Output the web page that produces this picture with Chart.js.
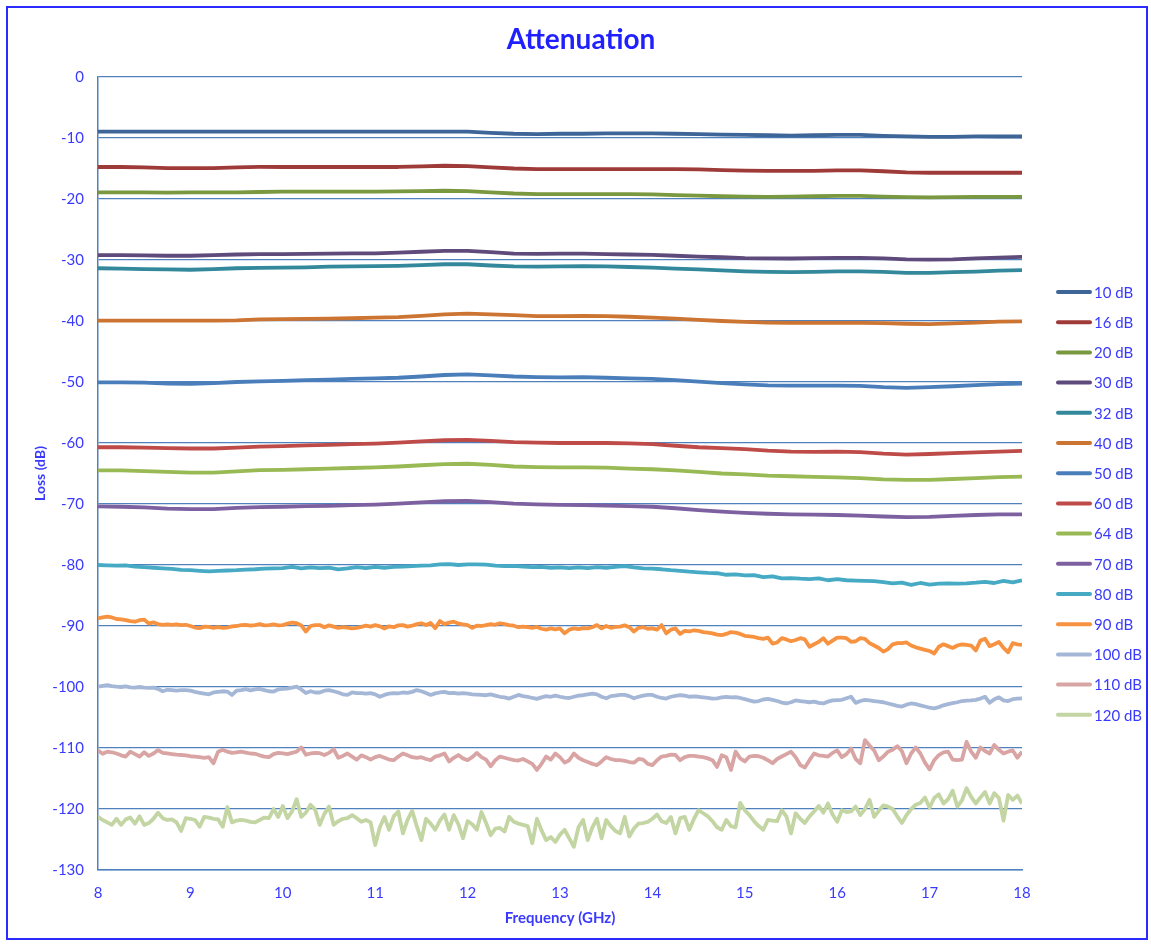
<!DOCTYPE html>
<html>
<head>
<meta charset="utf-8">
<script src="https://cdn.jsdelivr.net/npm/chart.js@4"></script>
<style>
  html, body { margin:0; padding:0; background:#ffffff; }
  #wrap { position:absolute; left:0; top:0; width:1151px; height:945px; }
  #frame { position:absolute; left:6px; top:6px; width:1138px; height:930px; border:2px solid #2B2BFF; box-sizing:content-box; pointer-events:none; }
</style>
</head>
<body>
<div id="wrap"><canvas id="c" width="1151" height="945"></canvas></div>
<div id="frame"></div>
<script>
// ---------- x values (GHz) ----------
const freqCoarse = [8,8.25,8.5,8.75, 9,9.25,9.5,9.75, 10,10.25,10.5,10.75, 11,11.25,11.5,11.75,
  12,12.25,12.5,12.75, 13,13.25,13.5,13.75, 14,14.25,14.5,14.75, 15,15.25,15.5,15.75,
  16,16.25,16.5,16.75, 17,17.25,17.5,17.75, 18];
const freqMid = [
  8.0,8.1,8.2,8.3,8.4,8.5,8.6,8.7,8.8,8.9,
  9.0,9.1,9.2,9.3,9.4,9.5,9.6,9.7,9.8,9.9,
  10.0,10.1,10.2,10.3,10.4,10.5,10.6,10.7,10.8,10.9,
  11.0,11.1,11.2,11.3,11.4,11.5,11.6,11.7,11.8,11.9,
  12.0,12.1,12.2,12.3,12.4,12.5,12.6,12.7,12.8,12.9,
  13.0,13.1,13.2,13.3,13.4,13.5,13.6,13.7,13.8,13.9,
  14.0,14.1,14.2,14.3,14.4,14.5,14.6,14.7,14.8,14.9,
  15.0,15.1,15.2,15.3,15.4,15.5,15.6,15.7,15.8,15.9,
  16.0,16.1,16.2,16.3,16.4,16.5,16.6,16.7,16.8,16.9,
  17.0,17.1,17.2,17.3,17.4,17.5,17.6,17.7,17.8,17.9,
  18.0];
const freqFine = [
  8.00,8.05,8.10,8.15,8.20,8.25,8.30,8.35,8.40,8.45,8.50,8.55,8.60,8.65,8.70,8.75,8.80,8.85,8.90,8.95,
  9.00,9.05,9.10,9.15,9.20,9.25,9.30,9.35,9.40,9.45,9.50,9.55,9.60,9.65,9.70,9.75,9.80,9.85,9.90,9.95,
  10.00,10.05,10.10,10.15,10.20,10.25,10.30,10.35,10.40,10.45,10.50,10.55,10.60,10.65,10.70,10.75,10.80,10.85,10.90,10.95,
  11.00,11.05,11.10,11.15,11.20,11.25,11.30,11.35,11.40,11.45,11.50,11.55,11.60,11.65,11.70,11.75,11.80,11.85,11.90,11.95,
  12.00,12.05,12.10,12.15,12.20,12.25,12.30,12.35,12.40,12.45,12.50,12.55,12.60,12.65,12.70,12.75,12.80,12.85,12.90,12.95,
  13.00,13.05,13.10,13.15,13.20,13.25,13.30,13.35,13.40,13.45,13.50,13.55,13.60,13.65,13.70,13.75,13.80,13.85,13.90,13.95,
  14.00,14.05,14.10,14.15,14.20,14.25,14.30,14.35,14.40,14.45,14.50,14.55,14.60,14.65,14.70,14.75,14.80,14.85,14.90,14.95,
  15.00,15.05,15.10,15.15,15.20,15.25,15.30,15.35,15.40,15.45,15.50,15.55,15.60,15.65,15.70,15.75,15.80,15.85,15.90,15.95,
  16.00,16.05,16.10,16.15,16.20,16.25,16.30,16.35,16.40,16.45,16.50,16.55,16.60,16.65,16.70,16.75,16.80,16.85,16.90,16.95,
  17.00,17.05,17.10,17.15,17.20,17.25,17.30,17.35,17.40,17.45,17.50,17.55,17.60,17.65,17.70,17.75,17.80,17.85,17.90,17.95,
  18.00];

// ---------- series (loss in dB) ----------
const loss10 = [-8.95,-8.95,-8.95,-8.95, -8.95,-8.95,-8.95,-8.95, -8.95,-8.95,-8.95,-8.95, -8.95,-8.95,-8.95,-8.95,
  -8.95,-9.15,-9.3,-9.35, -9.3,-9.3,-9.25,-9.25, -9.25,-9.3,-9.35,-9.45, -9.5,-9.55,-9.6,-9.55,
  -9.5,-9.5,-9.65,-9.75, -9.8,-9.8,-9.75,-9.75, -9.75];
const loss16 = [-14.75,-14.75,-14.8,-14.95, -14.95,-14.95,-14.8,-14.75, -14.75,-14.75,-14.75,-14.75, -14.75,-14.75,-14.65,-14.55,
  -14.6,-14.8,-15.0,-15.1, -15.1,-15.1,-15.1,-15.1, -15.1,-15.1,-15.15,-15.25, -15.35,-15.4,-15.4,-15.4,
  -15.3,-15.3,-15.45,-15.65, -15.7,-15.7,-15.7,-15.7, -15.7];
const loss20 = [-18.9,-18.9,-18.9,-18.95, -18.9,-18.9,-18.9,-18.85, -18.8,-18.8,-18.8,-18.8, -18.8,-18.75,-18.7,-18.65,
  -18.7,-18.9,-19.1,-19.2, -19.2,-19.2,-19.2,-19.2, -19.25,-19.35,-19.45,-19.55, -19.6,-19.65,-19.6,-19.55,
  -19.5,-19.5,-19.6,-19.7, -19.75,-19.7,-19.65,-19.65, -19.65];
const loss30 = [-29.2,-29.2,-29.25,-29.3, -29.3,-29.2,-29.1,-29.05, -29.05,-29.0,-28.95,-28.9, -28.9,-28.8,-28.65,-28.5,
  -28.5,-28.7,-28.95,-29.0, -28.95,-28.95,-29.05,-29.1, -29.15,-29.3,-29.45,-29.55, -29.7,-29.75,-29.75,-29.7,
  -29.65,-29.65,-29.75,-29.9, -29.95,-29.9,-29.75,-29.6, -29.5];
const loss32 = [-31.35,-31.4,-31.5,-31.55, -31.6,-31.5,-31.35,-31.3, -31.25,-31.2,-31.1,-31.05, -31.0,-30.95,-30.85,-30.7,
  -30.7,-30.9,-31.05,-31.1, -31.05,-31.0,-31.05,-31.15, -31.25,-31.4,-31.55,-31.7, -31.85,-31.95,-32.0,-31.95,
  -31.85,-31.85,-31.95,-32.1, -32.1,-32.0,-31.9,-31.75, -31.65];
const loss40 = [-39.95,-39.95,-39.95,-39.95, -39.95,-39.95,-39.9,-39.75, -39.7,-39.65,-39.6,-39.55, -39.45,-39.35,-39.15,-38.9,
  -38.8,-38.9,-39.05,-39.2, -39.2,-39.15,-39.2,-39.3, -39.45,-39.6,-39.8,-40.0, -40.15,-40.25,-40.3,-40.3,
  -40.3,-40.3,-40.35,-40.45, -40.5,-40.4,-40.25,-40.1, -40.05];
const loss50 = [-50.05,-50.05,-50.1,-50.25, -50.3,-50.2,-50.0,-49.9, -49.8,-49.7,-49.6,-49.5, -49.4,-49.3,-49.1,-48.85,
  -48.75,-48.9,-49.1,-49.2, -49.25,-49.2,-49.3,-49.4, -49.5,-49.7,-49.95,-50.2, -50.4,-50.55,-50.6,-50.6,
  -50.6,-50.65,-50.85,-50.95, -50.85,-50.7,-50.5,-50.35, -50.25];
const loss60 = [-60.7,-60.7,-60.75,-60.85, -60.9,-60.9,-60.75,-60.6, -60.5,-60.4,-60.3,-60.2, -60.1,-59.95,-59.75,-59.55,
  -59.5,-59.65,-59.85,-59.95, -60.0,-60.0,-60.0,-60.05, -60.2,-60.45,-60.7,-60.85, -61.0,-61.25,-61.4,-61.45,
  -61.4,-61.5,-61.75,-61.9, -61.8,-61.65,-61.55,-61.4, -61.3];
const loss64 = [-64.5,-64.5,-64.6,-64.75, -64.85,-64.85,-64.65,-64.45, -64.4,-64.3,-64.2,-64.1, -64.0,-63.85,-63.65,-63.45,
  -63.4,-63.6,-63.85,-63.95, -64.0,-64.0,-64.05,-64.2, -64.3,-64.5,-64.75,-65.0, -65.15,-65.35,-65.45,-65.55,
  -65.65,-65.75,-65.95,-66.05, -66.05,-65.9,-65.75,-65.6, -65.5];
const loss70 = [-70.4,-70.45,-70.55,-70.75, -70.85,-70.85,-70.65,-70.5, -70.45,-70.35,-70.3,-70.2, -70.1,-69.95,-69.75,-69.55,
  -69.5,-69.7,-69.95,-70.05, -70.15,-70.2,-70.25,-70.35, -70.45,-70.7,-71.0,-71.25, -71.45,-71.6,-71.7,-71.75,
  -71.8,-71.9,-72.05,-72.15, -72.1,-71.95,-71.8,-71.7, -71.7];
const loss80 = [
  -80.0,-80.05,-80.1,-80.05,-80.25,-80.35,-80.45,-80.55,-80.65,-80.8,
  -80.85,-80.95,-81.05,-80.95,-80.9,-80.85,-80.75,-80.7,-80.6,-80.55,
  -80.5,-80.3,-80.55,-80.4,-80.5,-80.45,-80.7,-80.55,-80.35,-80.5,
  -80.3,-80.45,-80.3,-80.25,-80.2,-80.1,-80.05,-79.9,-79.85,-80.0,
  -79.9,-79.9,-79.95,-80.1,-80.2,-80.15,-80.25,-80.35,-80.3,-80.45,
  -80.4,-80.5,-80.4,-80.5,-80.35,-80.45,-80.3,-80.2,-80.4,-80.55,
  -80.6,-80.7,-80.85,-80.95,-81.1,-81.2,-81.3,-81.35,-81.6,-81.55,
  -81.7,-81.65,-82.0,-81.85,-82.2,-82.15,-82.25,-82.3,-82.2,-82.5,
  -82.3,-82.5,-82.55,-82.6,-82.65,-82.8,-83.0,-82.9,-83.25,-82.95,
  -83.2,-83.05,-83.0,-83.05,-83.0,-82.9,-82.75,-82.95,-82.6,-82.85,
  -82.5];
const loss90 = [
  -88.75,-88.6,-88.45,-88.6,-88.85,-88.9,-89.05,-89.2,-89.3,-89.05,-88.95,-89.6,-89.4,-89.7,-89.8,-89.75,-89.8,-89.75,-89.85,-89.8,
  -90.0,-90.25,-90.35,-90.1,-90.15,-90.3,-90.2,-90.3,-90.25,-90.05,-90.0,-89.85,-89.8,-89.95,-89.85,-89.7,-89.9,-89.85,-89.75,-89.9,
  -89.85,-89.6,-89.45,-89.55,-89.9,-90.9,-90.0,-89.85,-89.85,-90.2,-89.9,-90.1,-90.3,-90.2,-90.25,-90.4,-90.3,-90.15,-89.95,-90.1,
  -89.85,-90.05,-90.4,-90.05,-90.2,-89.9,-89.85,-90.1,-89.95,-89.7,-89.55,-89.85,-89.5,-90.35,-89.2,-89.7,-89.45,-89.3,-89.6,-89.75,
  -89.85,-90.3,-89.95,-90.0,-89.85,-89.7,-89.8,-89.55,-89.7,-89.85,-89.95,-90.2,-90.1,-90.2,-90.3,-90.15,-90.45,-90.6,-90.4,-90.55,
  -90.4,-91.2,-90.6,-90.4,-90.5,-90.35,-90.4,-90.2,-89.85,-90.4,-90.0,-90.3,-90.15,-90.1,-89.9,-90.2,-90.9,-90.3,-90.2,-90.45,
  -90.4,-90.6,-89.85,-91.2,-90.6,-90.4,-91.3,-90.8,-90.9,-90.7,-90.8,-91.0,-91.1,-91.2,-91.4,-91.5,-91.3,-91.0,-91.1,-91.3,
  -91.6,-91.7,-91.8,-92.0,-92.1,-91.9,-92.9,-92.7,-92.0,-92.2,-92.5,-92.3,-92.0,-92.2,-93.4,-93.0,-92.6,-92.0,-92.9,-92.4,
  -91.9,-91.9,-92.0,-92.6,-92.5,-92.0,-92.1,-92.8,-93.2,-93.6,-94.2,-93.8,-93.0,-92.8,-92.8,-92.7,-93.2,-93.5,-93.7,-93.9,
  -94.1,-94.5,-93.4,-93.0,-93.3,-93.6,-93.2,-93.0,-93.1,-93.2,-94.0,-92.4,-92.1,-93.3,-93.0,-92.6,-93.6,-94.3,-92.8,-93.0,
  -93.1];
const loss100 = [
  -99.95,-99.8,-99.7,-99.85,-99.95,-100.0,-99.9,-100.05,-100.1,-100.0,-100.1,-100.15,-100.1,-100.3,-100.7,-100.45,-100.5,-100.6,-100.5,-100.5,
  -100.6,-100.8,-100.95,-101.1,-101.2,-100.9,-100.8,-100.7,-100.75,-101.3,-100.6,-100.5,-100.35,-100.55,-100.4,-100.3,-100.5,-100.7,-100.75,-100.4,
  -100.3,-100.25,-100.1,-99.95,-100.4,-101.0,-100.7,-100.9,-100.9,-100.6,-100.5,-100.7,-100.9,-101.2,-101.3,-100.9,-101.0,-101.0,-101.1,-101.0,
  -101.2,-101.6,-101.3,-101.1,-101.0,-101.05,-100.9,-100.95,-100.8,-100.5,-100.7,-101.0,-101.3,-101.05,-100.9,-100.8,-101.0,-100.95,-101.1,-101.0,
  -101.1,-101.2,-101.25,-101.3,-101.35,-101.2,-101.4,-101.6,-101.7,-101.9,-101.6,-101.3,-101.5,-101.6,-101.8,-101.95,-101.7,-101.5,-101.6,-101.4,
  -101.6,-101.75,-101.8,-101.6,-101.4,-101.35,-101.2,-101.1,-101.2,-101.6,-101.85,-101.5,-101.4,-101.3,-101.3,-101.5,-101.85,-101.6,-101.4,-101.3,
  -101.3,-101.6,-101.8,-101.9,-101.6,-101.45,-101.35,-101.4,-101.6,-101.55,-101.6,-101.7,-101.8,-101.9,-101.85,-101.7,-101.6,-101.7,-101.65,-101.8,
  -102.0,-102.2,-102.4,-102.3,-102.05,-101.95,-102.1,-102.3,-102.55,-102.7,-102.5,-102.2,-102.3,-102.4,-102.5,-102.4,-102.6,-102.7,-102.4,-102.2,
  -102.15,-102.1,-101.85,-101.6,-102.6,-102.3,-102.1,-102.2,-102.3,-102.4,-102.5,-102.7,-102.9,-103.1,-103.2,-102.9,-102.7,-102.8,-103.0,-103.2,
  -103.4,-103.5,-103.3,-103.0,-102.8,-102.65,-102.5,-102.3,-102.25,-102.2,-102.1,-101.9,-101.6,-102.6,-102.0,-101.7,-102.2,-102.3,-102.0,-101.9,
  -101.85];
const loss110 = [
  -110.4,-110.95,-110.6,-110.7,-110.9,-111.2,-111.4,-110.6,-111.0,-111.4,-110.7,-111.3,-110.9,-110.35,-110.8,-110.9,-111.0,-111.1,-111.15,-111.2,
  -111.35,-111.4,-111.5,-111.6,-111.5,-112.5,-110.6,-110.3,-110.6,-110.8,-110.7,-110.6,-110.75,-110.9,-110.95,-111.2,-111.4,-111.5,-111.0,-110.8,
  -110.9,-111.0,-110.8,-110.6,-109.9,-111.1,-110.9,-110.8,-110.85,-111.15,-110.8,-110.2,-111.6,-111.3,-110.9,-111.4,-111.9,-111.2,-111.5,-111.9,
  -111.5,-111.3,-111.6,-111.9,-112.0,-111.4,-110.9,-111.2,-111.5,-111.6,-111.5,-111.8,-112.0,-111.4,-111.2,-110.9,-112.2,-111.6,-111.15,-111.7,
  -112.0,-111.5,-110.8,-111.5,-111.9,-113.0,-112.0,-111.4,-111.6,-111.8,-112.0,-112.05,-111.8,-112.2,-112.6,-113.6,-112.6,-111.4,-111.9,-110.9,
  -111.5,-112.4,-112.0,-110.9,-111.6,-112.0,-112.3,-112.6,-112.8,-112.2,-111.5,-111.8,-112.0,-112.0,-112.1,-112.3,-112.4,-111.8,-111.9,-112.6,
  -112.8,-112.0,-111.4,-111.3,-111.1,-111.15,-112.0,-111.5,-111.3,-111.3,-111.4,-111.5,-111.7,-112.0,-113.1,-111.2,-111.5,-113.6,-110.6,-111.7,
  -112.2,-111.4,-111.3,-111.35,-111.6,-112.0,-112.5,-111.8,-111.4,-111.0,-110.6,-111.5,-112.8,-113.2,-112.0,-110.9,-111.2,-111.3,-111.4,-110.8,
  -110.4,-111.5,-111.0,-110.1,-111.8,-112.5,-108.7,-109.6,-110.4,-112.0,-111.4,-110.6,-110.3,-109.7,-110.5,-112.5,-110.9,-109.9,-110.9,-112.4,
  -113.5,-112.0,-111.15,-110.7,-110.6,-111.9,-112.0,-111.9,-109.0,-110.6,-111.6,-109.9,-110.5,-110.9,-109.5,-110.3,-110.9,-110.6,-110.4,-111.6,
  -110.6];
const loss120 = [
  -121.3,-121.8,-122.2,-122.6,-121.6,-122.6,-121.7,-121.4,-122.4,-121.2,-122.6,-122.3,-121.6,-120.6,-121.5,-121.8,-121.7,-122.2,-123.6,-121.5,
  -121.6,-121.8,-122.9,-121.3,-121.4,-121.6,-121.7,-122.9,-119.7,-122.2,-121.9,-121.8,-121.9,-122.1,-122.2,-121.8,-121.4,-121.5,-120.0,-121.3,
  -119.5,-121.5,-120.4,-118.4,-121.3,-120.6,-119.3,-120.1,-122.6,-120.8,-119.6,-122.6,-122.0,-121.6,-121.5,-121.0,-121.5,-122.1,-121.8,-122.2,
  -125.9,-123.0,-121.3,-123.4,-121.2,-120.4,-124.0,-121.8,-120.3,-122.8,-125.1,-121.6,-122.4,-123.4,-121.9,-120.9,-123.4,-121.0,-122.5,-124.8,
  -122.0,-122.5,-123.4,-120.5,-122.3,-124.3,-123.2,-123.1,-123.7,-121.3,-122.1,-122.4,-122.6,-122.8,-125.6,-121.6,-123.5,-125.1,-124.6,-125.4,
  -124.2,-123.4,-124.8,-126.2,-123.0,-121.8,-125.1,-123.0,-121.6,-124.8,-121.8,-122.8,-123.6,-124.0,-121.3,-124.5,-123.2,-122.4,-122.3,-122.1,
  -121.6,-120.9,-122.0,-122.3,-121.3,-124.0,-121.5,-121.3,-123.4,-121.6,-120.2,-120.7,-121.2,-122.0,-123.0,-123.4,-121.8,-122.8,-123.0,-119.0,
  -120.2,-121.0,-122.0,-122.8,-123.4,-121.8,-121.9,-122.0,-120.2,-121.2,-124.0,-120.7,-121.6,-122.3,-121.2,-120.4,-119.5,-120.6,-119.1,-120.9,
  -122.1,-120.2,-120.5,-120.4,-119.6,-121.0,-120.0,-118.5,-121.3,-120.3,-119.4,-119.6,-120.0,-121.2,-122.3,-121.0,-120.0,-119.3,-119.0,-118.1,
  -119.8,-118.2,-117.6,-119.1,-118.4,-117.0,-119.6,-118.6,-116.6,-118.0,-119.1,-118.1,-117.2,-119.1,-117.4,-118.2,-121.9,-117.7,-118.5,-117.8,
  -119.1];

const seriesLabels = ['10 dB','16 dB','20 dB','30 dB','32 dB','40 dB','50 dB','60 dB','64 dB','70 dB','80 dB','90 dB','100 dB','110 dB','120 dB'];
const seriesX = [freqCoarse,freqCoarse,freqCoarse,freqCoarse,freqCoarse,freqCoarse,freqCoarse,freqCoarse,freqCoarse,freqCoarse,freqMid,freqFine,freqFine,freqFine,freqFine];
const seriesY = [loss10,loss16,loss20,loss30,loss32,loss40,loss50,loss60,loss64,loss70,loss80,loss90,loss100,loss110,loss120];
const seriesColors = ['#3D6598','#9E3A38','#7A983F','#5F4A7C','#33899B','#CC7432',
  '#4A7EBB','#BE4B48','#98B954','#7D60A0','#46AAC5','#F69240',
  '#A5B7D7','#D9A5A4','#C2D5A3'];
const yTicks = [0,-10,-20,-30,-40,-50,-60,-70,-80,-90,-100,-110,-120,-130];
const xTicks = [8,9,10,11,12,13,14,15,16,17,18];

const BLUE_TEXT = '#3A3AFF';
const FONT = "Lato, 'Open Sans', 'DejaVu Sans', sans-serif";
const GRID = '#4F81BD';

const datasets = seriesLabels.map((lab, k) => ({
  label: lab,
  data: seriesX[k].map((x, i) => ({ x: x, y: seriesY[k][i] })),
  borderColor: seriesColors[k],
  backgroundColor: seriesColors[k],
  borderWidth: 3.8,
  borderJoinStyle: 'round',
  pointRadius: 0,
  tension: 0,
  fill: false,
  order: 15 - k
}));

const overlay = {
  id: 'overlay',
  afterDraw(chart) {
    const ctx = chart.ctx;
    ctx.save();
    // title
    ctx.fillStyle = '#1F1FFF';
    ctx.font = 'bold 28px ' + FONT;
    ctx.textAlign = 'center';
    ctx.textBaseline = 'middle';
    ctx.fillText('Attenuation', 581, 40);
    // legend
    ctx.font = '15px ' + FONT;
    ctx.textAlign = 'left';
    chart.data.datasets.forEach((ds, i) => {
      const y = 292 + i * 30.2;
      ctx.strokeStyle = ds.borderColor;
      ctx.lineWidth = 4;
      ctx.lineCap = 'round';
      ctx.beginPath();
      ctx.moveTo(1058, y);
      ctx.lineTo(1090, y);
      ctx.stroke();
      ctx.fillStyle = BLUE_TEXT;
      ctx.fillText(ds.label, 1094, y + 1);
    });
    ctx.restore();
  }
};

new Chart(document.getElementById('c'), {
  type: 'line',
  data: { datasets },
  options: {
    responsive: false,
    devicePixelRatio: 1,
    animation: false,
    layout: { padding: { left: 0, right: 129, top: 77, bottom: 0 } },
    plugins: { legend: { display: false }, title: { display: false }, tooltip: { enabled: false } },
    scales: {
      x: {
        type: 'linear', min: 8, max: 18,
        afterFit(s) { s.height = 75; },
        afterBuildTicks(s) { s.ticks = xTicks.map(v => ({ value: v })); },
        grid: { display: false, drawTicks: false },
        border: { display: true, color: GRID, width: 1.5 },
        ticks: { color: BLUE_TEXT, font: { family: FONT, size: 15 }, padding: 14, maxRotation: 0, autoSkip: false },
        title: { display: true, text: 'Frequency (GHz)', color: BLUE_TEXT, font: { family: FONT, size: 15, weight: 'bold' }, padding: { top: 0, bottom: 18 } }
      },
      y: {
        type: 'linear', min: -130, max: 0,
        afterFit(s) { s.width = 98; },
        afterBuildTicks(s) { s.ticks = yTicks.map(v => ({ value: v })); },
        grid: { color: GRID, lineWidth: 1.2, drawTicks: false },
        border: { display: true, color: GRID, width: 1.5 },
        ticks: { color: BLUE_TEXT, font: { family: FONT, size: 15 }, padding: 14, autoSkip: false },
        title: { display: true, text: 'Loss (dB)', color: BLUE_TEXT, font: { family: FONT, size: 14, weight: 'bold' }, padding: { top: 32, bottom: 0 } }
      }
    }
  },
  plugins: [overlay]
});
</script>
</body>
</html>
